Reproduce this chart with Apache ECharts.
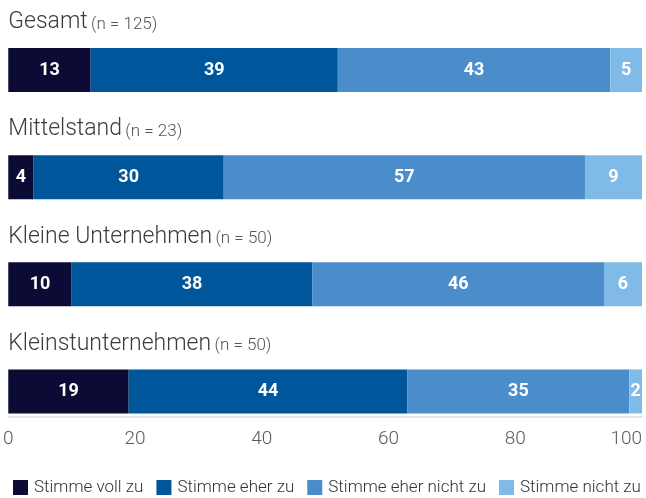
<!DOCTYPE html>
<html>
<head>
<meta charset="utf-8">
<script src="https://cdn.jsdelivr.net/npm/echarts@6/dist/echarts.min.js"></script>
<style>
  html, body { margin: 0; padding: 0; background: #ffffff; }
  #chart { width: 646px; height: 498px; }
</style>
</head>
<body>
<div id="chart"></div>
<script>
// Survey groups (top to bottom) and sample sizes
const groups = ['Gesamt', 'Mittelstand', 'Kleine Unternehmen', 'Kleinstunternehmen'];
const sampleSizes = [125, 23, 50, 50];

// Answer categories, shares in percent per group
const answers = ['Stimme voll zu', 'Stimme eher zu', 'Stimme eher nicht zu', 'Stimme nicht zu'];
const stimmeVollZu = [13, 4, 10, 19];
const stimmeEherZu = [39, 30, 38, 44];
const stimmeEherNichtZu = [43, 57, 46, 35];
const stimmeNichtZu = [5, 9, 6, 2];

// x-axis ticks
const xTicks = [0, 20, 40, 60, 80, 100];

const colors = ['#0b0b35', '#00569a', '#4a8dca', '#80bbe8'];
const seriesValues = [stimmeVollZu, stimmeEherZu, stimmeEherNichtZu, stimmeNichtZu];

const FONT = 'Roboto, "Noto Sans", sans-serif';

const chart = echarts.init(document.getElementById('chart'), null, { renderer: 'canvas' });

chart.setOption({
  animation: false,
  backgroundColor: '#ffffff',
  grid: { left: 8, right: 4, top: 16.5, bottom: 53, containLabel: false },
  xAxis: {
    type: 'value',
    min: xTicks[0],
    max: xTicks[xTicks.length - 1],
    interval: xTicks[1] - xTicks[0],
    offset: -28,
    axisLine: { show: true, lineStyle: { color: '#e4e4e4', width: 2 } },
    axisTick: { show: false },
    splitLine: { show: false },
    axisLabel: {
      margin: 13,
      color: '#5a5a5a',
      fontFamily: FONT,
      fontWeight: 300,
      fontSize: 19,
      alignMaxLabel: 'right'
    }
  },
  yAxis: {
    type: 'category',
    inverse: true,
    data: groups,
    axisLine: { show: false },
    axisTick: { show: false },
    axisLabel: {
      inside: true,
      margin: 0,
      align: 'left',
      verticalAlign: 'middle',
      padding: [0, 0, 100, 0],
      formatter: (v, i) => '{t|' + v + '} {n|(n = ' + sampleSizes[i] + ')}',
      rich: {
        t: { fontFamily: FONT, fontWeight: 300, fontSize: 23, color: '#3c3c3c', lineHeight: 28, verticalAlign: 'bottom' },
        n: { fontFamily: FONT, fontWeight: 300, fontSize: 17, color: '#555555', lineHeight: 28, verticalAlign: 'bottom', padding: [0, 0, 1, 0] }
      }
    }
  },
  legend: {
    bottom: 2,
    left: 13,
    width: 633,
    padding: 0,
    itemWidth: 15,
    itemHeight: 15,
    itemGap: 13,
    icon: 'rect',
    textStyle: { fontFamily: FONT, fontWeight: 300, fontSize: 17, color: '#333333', padding: [0, 0, 0, 1] },
    data: answers
  },
  series: answers.map((name, k) => ({
    name: name,
    type: 'bar',
    stack: 'total',
    barWidth: 44,
    itemStyle: { color: colors[k] },
    emphasis: { disabled: true },
    label: {
      show: true,
      position: 'inside',
      color: '#ffffff',
      fontFamily: FONT,
      fontWeight: 'bold',
      fontSize: 18,
      overflow: 'none'
    },
    data: seriesValues[k]
  }))
});
</script>
</body>
</html>
